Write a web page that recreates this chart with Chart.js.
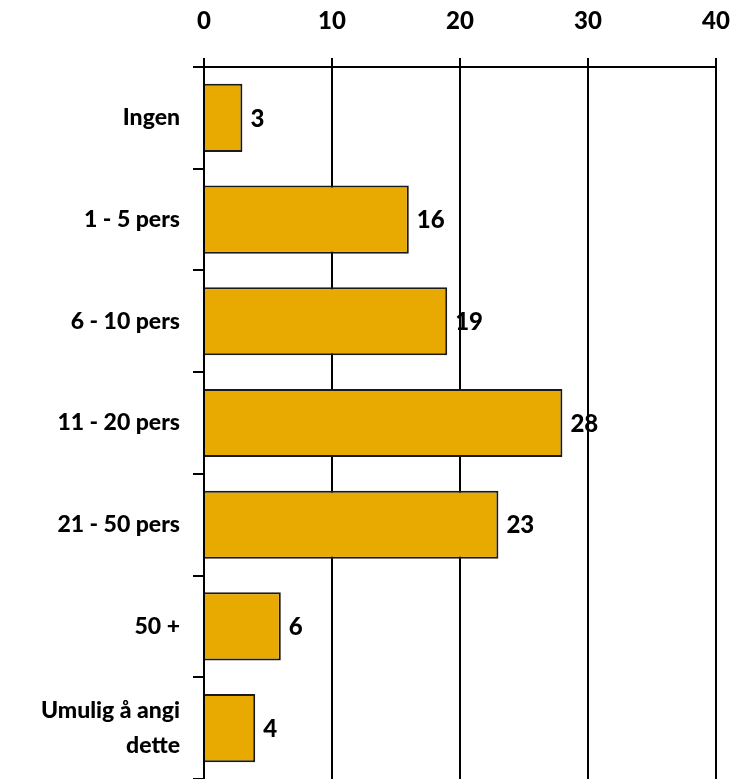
<!DOCTYPE html>
<html><head><meta charset="utf-8">
<script src="https://cdn.jsdelivr.net/npm/chart.js@4"></script>
<style>html,body{margin:0;padding:0;background:#fff}#w{width:734px;height:779px}</style>
</head><body><div id="w"><canvas id="c"></canvas></div>
<script>
const categories = ["Ingen", "1 - 5 pers", "6 - 10 pers", "11 - 20 pers", "21 - 50 pers", "50 +", ["Umulig å angi", "dette"]];
const values = [3, 16, 19, 28, 23, 6, 4];
const xTicks = [0, 10, 20, 30, 40];

const FONT = "Lato";
const WEIGHT = 900;
const labelPlugin = {
  id: 'barLabels',
  afterDatasetsDraw(chart) {
    const ctx = chart.ctx;
    const meta = chart.getDatasetMeta(0);
    ctx.save();
    ctx.font = WEIGHT + " 24px " + FONT;
    ctx.fillStyle = "#000";
    ctx.textBaseline = "middle";
    ctx.textAlign = "left";
    meta.data.forEach((bar, i) => {
      ctx.fillText(String(values[i]), bar.x + 8, bar.y + 1);
    });
    ctx.restore();
  }
};

new Chart(document.getElementById('c'), {
  type: 'bar',
  data: {
    labels: categories,
    datasets: [{
      data: values,
      backgroundColor: '#E8A900',
      borderColor: '#1a1a1a',
      borderWidth: 2,
      barPercentage: 0.67,
      categoryPercentage: 1
    }]
  },
  options: {
    indexAxis: 'y',
    responsive: true,
    maintainAspectRatio: false,
    animation: false,
    layout: { padding: { top: 0, right: 18, bottom: 0, left: 0 } },
    plugins: { legend: { display: false }, tooltip: { enabled: false } },
    scales: {
      x: {
        position: 'top',
        min: 0, max: 40,
        afterBuildTicks(scale) { scale.ticks = xTicks.map(v => ({ value: v })); },
        afterFit(scale) { scale.height = 67; scale.paddingLeft = 0; scale.paddingRight = 0; },
        grid: { color: '#000', lineWidth: 2, tickLength: 9, drawTicks: true },
        border: { display: true, color: '#000', width: 2 },
        ticks: { color: '#000', font: { family: FONT, size: 24, weight: WEIGHT }, padding: 22 }
      },
      y: {
        afterFit(scale) { scale.width = 204; scale.paddingTop = 0; scale.paddingBottom = 0; },
        grid: { offset: true, drawOnChartArea: false, color: '#000', lineWidth: 2, tickLength: 11 },
        border: { display: true, color: '#000', width: 2 },
        ticks: { color: '#000', font: { family: FONT, size: 23, weight: WEIGHT, lineHeight: 1.5 }, padding: 13 }
      }
    }
  },
  plugins: [labelPlugin]
});
</script>
</body></html>
